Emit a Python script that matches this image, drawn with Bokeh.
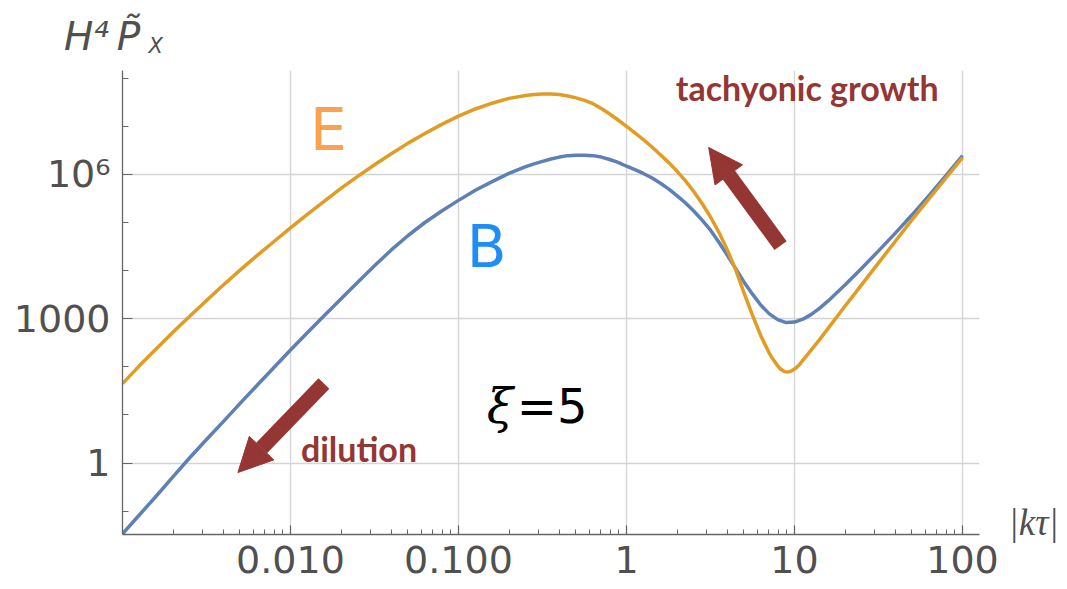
import numpy as np
from bokeh.plotting import figure
from bokeh.models import FixedTicker, Label, Arrow, NormalHead
from bokeh.embed import file_html
from bokeh.resources import INLINE

# Spectra for xi = 5, stored as log10 values: log10|k tau| and log10(H^4 P_X)
log_kt_B = [-3.0, -2.9, -2.8, -2.7, -2.6, -2.5, -2.4, -2.3, -2.2, -2.1, -2.0, -1.9,
            -1.8, -1.7, -1.6, -1.5, -1.4, -1.3, -1.2, -1.1, -1.0, -0.9, -0.8, -0.7,
            -0.6, -0.55, -0.5, -0.45, -0.4, -0.35, -0.3, -0.25, -0.2, -0.15, -0.1,
            -0.05, 0.0, 0.05, 0.1, 0.15, 0.2, 0.25, 0.3, 0.35, 0.4, 0.45, 0.5, 0.55,
            0.6, 0.65, 0.7, 0.75, 0.8, 0.85, 0.9, 0.95, 1.0, 1.05, 1.1, 1.15, 1.2,
            1.3, 1.4, 1.5, 1.6, 1.7, 1.8, 1.9, 2.0]
log_P_B = [-1.47, -1.08, -0.69, -0.29, 0.11, 0.49, 0.86, 1.24, 1.61, 1.98, 2.35, 2.71,
           3.06, 3.41, 3.76, 4.10, 4.43, 4.73, 5.00, 5.24, 5.46, 5.67, 5.85, 6.02,
           6.16, 6.22, 6.27, 6.32, 6.36, 6.39, 6.40, 6.40, 6.39, 6.36, 6.31,
           6.25, 6.17, 6.10, 6.02, 5.93, 5.82, 5.70, 5.56, 5.41, 5.24, 5.05, 4.84, 4.59,
           4.32, 4.04, 3.76, 3.51, 3.28, 3.10, 2.98, 2.92, 2.93, 2.99, 3.09, 3.22, 3.37,
           3.70, 4.05, 4.41, 4.78, 5.16, 5.56, 5.97, 6.39]

log_kt_E = [-3.0, -2.9, -2.8, -2.7, -2.6, -2.5, -2.4, -2.3, -2.2, -2.1, -2.0, -1.9,
            -1.8, -1.7, -1.6, -1.5, -1.4, -1.3, -1.2, -1.1, -1.0, -0.9, -0.8, -0.7,
            -0.6, -0.55, -0.5, -0.45, -0.4, -0.35, -0.3, -0.25, -0.2, -0.15, -0.1,
            -0.05, 0.0, 0.05, 0.1, 0.15, 0.2, 0.25, 0.3, 0.35, 0.4, 0.45, 0.5, 0.55,
            0.6, 0.65, 0.7, 0.75, 0.8, 0.85, 0.875, 0.9, 0.915, 0.93, 0.945, 0.96,
            0.975, 0.99, 1.01, 1.03, 1.1, 1.15, 1.2, 1.3, 1.4, 1.5, 1.6, 1.7, 1.8,
            1.9, 2.0]
log_P_E = [1.65, 2.02, 2.37, 2.72, 3.05, 3.38, 3.70, 4.01, 4.31, 4.60, 4.89, 5.17,
           5.44, 5.71, 5.96, 6.20, 6.43, 6.65, 6.85, 7.04, 7.21, 7.36, 7.48, 7.58,
           7.64, 7.66, 7.67, 7.67, 7.66, 7.63, 7.59, 7.54, 7.47, 7.37, 7.255,
           7.13, 7.00, 6.865, 6.725, 6.575, 6.415, 6.25, 6.07, 5.87, 5.645, 5.395, 5.115,
           4.795, 4.43, 4.015, 3.53, 3.07, 2.64, 2.28, 2.14, 2.02, 1.96, 1.92, 1.895, 1.89,
           1.905, 1.93, 1.98, 2.05, 2.35, 2.57, 2.80, 3.26, 3.71, 4.16, 4.61, 5.06, 5.49,
           5.92, 6.35]

# Axis ticks and their labels
x_major = [0.01, 0.1, 1, 10, 100]
x_major_labels = ["0.010", "0.100", "1", "10", "100"]
x_minor = [m * 10.0 ** e for e in range(-3, 2) for m in range(2, 10)]
y_major = [1, 1000, 1000000]
y_major_labels = ["1", "1000", "10\u2076"]
y_minor = [0.1, 10, 100, 1e4, 1e5, 1e7, 1e8]

BLUE = "#5E81B5"
ORANGE = "#E19C24"
DARK_RED = "#943634"
AXIS_GRAY = "#666666"
LABEL_GRAY = "#505050"

p = figure(width=1067, height=589, x_axis_type="log", y_axis_type="log",
           x_range=(1e-3, 10 ** 2.101), y_range=(10 ** -1.486, 10 ** 8.16),
           output_backend="svg", toolbar_location=None, title=None,
           min_border_left=122, min_border_right=88, min_border_top=70,
           min_border_bottom=55)
p.outline_line_color = None
p.background_fill_color = "white"
p.border_fill_color = "white"

# Axes
p.xaxis.ticker = FixedTicker(ticks=x_major, minor_ticks=x_minor)
p.yaxis.ticker = FixedTicker(ticks=y_major, minor_ticks=y_minor)
p.xgrid.ticker = FixedTicker(ticks=x_major)
p.ygrid.ticker = FixedTicker(ticks=y_major)
p.xaxis.major_label_overrides = dict(zip(x_major, x_major_labels))
p.yaxis.major_label_overrides = dict(zip(y_major, y_major_labels))

for ax in (p.xaxis, p.yaxis):
    ax.axis_line_color = AXIS_GRAY
    ax.axis_line_width = 1.3
    ax.major_tick_line_color = AXIS_GRAY
    ax.minor_tick_line_color = AXIS_GRAY
    ax.major_tick_line_width = 1.2
    ax.minor_tick_line_width = 1.0
    ax.major_tick_out = 0
    ax.minor_tick_out = 0
    ax.major_label_text_font = "DejaVu Sans"
    ax.major_label_text_font_size = "38px"
    ax.major_label_text_color = LABEL_GRAY

p.xaxis.major_tick_in = 9
p.xaxis.minor_tick_in = 5
p.yaxis.major_tick_in = 10
p.yaxis.minor_tick_in = 6
p.xaxis.major_label_standoff = 11
p.yaxis.major_label_standoff = 12

p.grid.grid_line_color = "#d4d4d4"
p.grid.grid_line_width = 1.3

# Spectra
kt_B = 10 ** np.array(log_kt_B)
P_B = 10 ** np.array(log_P_B)
kt_E = 10 ** np.array(log_kt_E)
P_E = 10 ** np.array(log_P_E)
p.line(kt_B, P_B, line_color=BLUE, line_width=3.5, line_join="round")
p.line(kt_E, P_E, line_color=ORANGE, line_width=3.5, line_join="round")

# Arrows
for (x0, y0, x1, y1) in [(10 ** 0.917, 10 ** 4.52, 10 ** 0.489, 10 ** 6.56),
                         (10 ** -1.801, 10 ** 1.653, 10 ** -2.313, 10 ** -0.198)]:
    p.add_layout(Arrow(x_start=x0, y_start=y0, x_end=x1, y_end=y1,
                       line_color=DARK_RED, line_width=15,
                       end=NormalHead(size=34, fill_color=DARK_RED,
                                      line_color=DARK_RED, line_width=1)))


def make_text(x, y, text, size, color, font="DejaVu Sans", style="normal"):
    return Label(x=x, y=y, text=text, text_font=font,
                 text_font_size=size, text_color=color,
                 text_font_style=style, text_baseline="middle",
                 text_align="left")


p.add_layout(make_text(10 ** -1.884, 10 ** 6.933, "E", "58px", "#F9A24F"))
p.add_layout(make_text(10 ** -0.951, 10 ** 4.501, "B", "58px", "#1E8EF5"))
p.add_layout(make_text(10 ** -0.832, 10 ** 1.195, "\u03be", "48px", "black",
                       font="DejaVu Serif", style="italic"))
p.add_layout(make_text(10 ** -0.653, 10 ** 1.195, "=5", "48px", "black"))
p.add_layout(make_text(10 ** 0.293, 10 ** 7.807, "tachyonic growth", "34px",
                       DARK_RED, font="Lato", style="bold"))
p.add_layout(make_text(10 ** -1.938, 10 ** 0.301, "dilution", "34px",
                       DARK_RED, font="Lato", style="bold"))

# Axis titles, placed in the side panels so they are drawn outside the frame
p.add_layout(make_text(10 ** -3.348, 10 ** 8.867, "H\u2074\u2009P\u0303", "39px",
                       LABEL_GRAY, style="italic"), "above")
p.add_layout(make_text(10 ** -2.845, 10 ** 8.66, "X", "21px",
                       LABEL_GRAY, style="italic"), "above")
p.add_layout(make_text(10 ** 2.274, 10 ** -1.237, "|k\u03c4|", "37px", LABEL_GRAY,
                       font="Liberation Serif", style="italic"), "right")

open("out.html", "w").write(file_html(p, INLINE))
